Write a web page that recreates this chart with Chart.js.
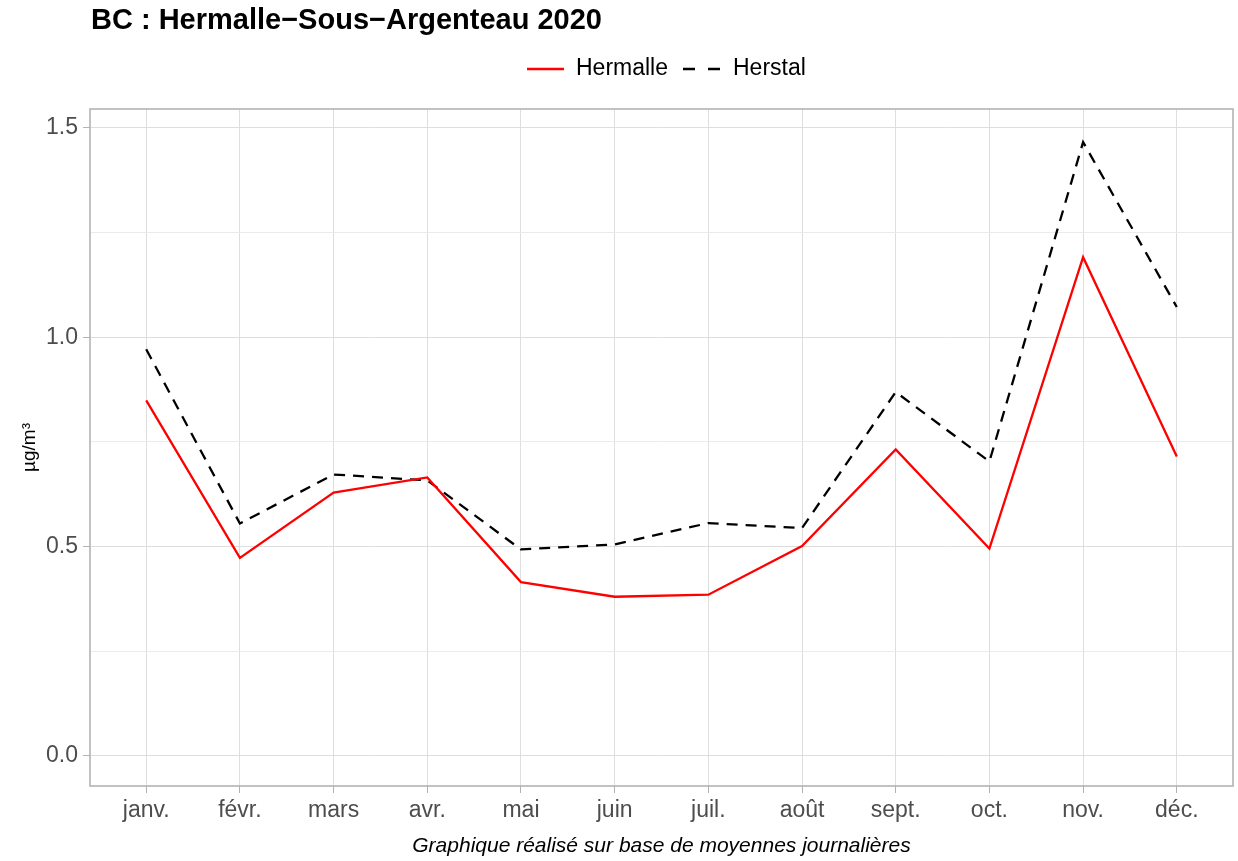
<!DOCTYPE html>
<html>
<head>
<meta charset="utf-8">
<script src="https://cdn.jsdelivr.net/npm/chart.js@4/dist/chart.umd.min.js"></script>
<style>
  html, body { margin: 0; padding: 0; background: #fff; }
  canvas { display: block; }
</style>
</head>
<body>
<canvas id="bc" width="1238" height="861"></canvas>
<script>
const months = ['janv.', 'févr.', 'mars', 'avr.', 'mai', 'juin', 'juil.', 'août', 'sept.', 'oct.', 'nov.', 'déc.'];
const hermalle = [0.849, 0.473, 0.629, 0.665, 0.415, 0.380, 0.385, 0.501, 0.732, 0.495, 1.191, 0.715];
const herstal = [0.971, 0.555, 0.672, 0.658, 0.493, 0.505, 0.556, 0.544, 0.869, 0.703, 1.466, 1.072];
const yTicks = [0, 0.25, 0.5, 0.75, 1, 1.25, 1.5];

const FONT = '"Liberation Sans", Arial, Helvetica, sans-serif';

function toPoints(values) {
  return values.map((v, i) => ({ x: i, y: v }));
}

function isMajor(v) {
  return Math.abs(v * 2 - Math.round(v * 2)) < 1e-9;
}

// panel border, title and legend drawn ggplot-style
const decorations = {
  id: 'decorations',
  afterDraw(chart) {
    const { ctx, chartArea } = chart;
    ctx.save();
    ctx.strokeStyle = '#b3b3b3';
    ctx.lineWidth = 1.6;
    ctx.strokeRect(chartArea.left, chartArea.top, chartArea.right - chartArea.left, chartArea.bottom - chartArea.top);

    ctx.fillStyle = '#000';
    ctx.font = 'bold 29px ' + FONT;
    ctx.textBaseline = 'middle';
    ctx.textAlign = 'left';
    ctx.fillText('BC : Hermalle\u2212Sous\u2212Argenteau 2020', 91, 21);

    // legend
    const y = 69;
    ctx.font = '23px ' + FONT;
    ctx.lineWidth = 2.3;
    ctx.strokeStyle = '#ff0000';
    ctx.beginPath();
    ctx.moveTo(527, y);
    ctx.lineTo(564, y);
    ctx.stroke();
    ctx.fillText('Hermalle', 576, y);

    ctx.strokeStyle = '#000';
    ctx.setLineDash([12, 13]);
    ctx.beginPath();
    ctx.moveTo(683, y);
    ctx.lineTo(720, y);
    ctx.stroke();
    ctx.setLineDash([]);
    ctx.fillText('Herstal', 733, y);
    ctx.restore();
  }
};

new Chart(document.getElementById('bc'), {
  type: 'line',
  data: {
    datasets: [
      {
        label: 'Hermalle',
        data: toPoints(hermalle),
        borderColor: '#ff0000',
        borderWidth: 2.3,
        pointRadius: 0,
        tension: 0,
      },
      {
        label: 'Herstal',
        data: toPoints(herstal),
        borderColor: '#000000',
        borderWidth: 2.3,
        borderDash: [11, 8],
        pointRadius: 0,
        tension: 0,
      },
    ],
  },
  options: {
    responsive: false,
    devicePixelRatio: 1,
    animation: false,
    layout: { padding: { top: 109, right: 5, left: 0, bottom: 0 } },
    plugins: {
      legend: { display: false },
      title: { display: false },
      tooltip: { enabled: false },
    },
    scales: {
      x: {
        type: 'linear',
        min: -0.6,
        max: 11.6,
        afterBuildTicks: scale => {
          scale.ticks = months.map((m, i) => ({ value: i }));
        },
        afterFit: scale => {
          scale.height = 75;
        },
        ticks: {
          callback: v => months[v],
          autoSkip: false,
          maxRotation: 0,
          padding: 4,
          color: '#4d4d4d',
          font: { family: FONT, size: 23 },
        },
        grid: {
          color: '#dedede',
          lineWidth: 1,
          tickColor: '#b3b3b3',
          tickLength: 7,
        },
        border: { display: false },
        title: {
          display: true,
          text: 'Graphique réalisé sur base de moyennes journalières',
          color: '#000',
          font: { family: FONT, size: 21, style: 'italic' },
          padding: { top: 0, bottom: 2 },
        },
      },
      y: {
        min: -0.072,
        max: 1.545,
        afterBuildTicks: scale => {
          scale.ticks = yTicks.map(v => ({ value: v }));
        },
        afterFit: scale => {
          scale.width = 90;
        },
        ticks: {
          callback: v => (isMajor(v) ? v.toFixed(1) : ''),
          padding: 5,
          color: '#4d4d4d',
          font: { family: FONT, size: 23 },
        },
        grid: {
          color: ctx => (isMajor(ctx.tick.value) ? '#dedede' : '#ebebeb'),
          lineWidth: 1,
          tickColor: ctx => (isMajor(ctx.tick.value) ? '#b3b3b3' : 'rgba(0,0,0,0)'),
          tickLength: 7,
        },
        border: { display: false },
        title: {
          display: true,
          text: 'µg/m³',
          color: '#000',
          font: { family: FONT, size: 19 },
          padding: { top: 18, bottom: 0 },
        },
      },
    },
  },
  plugins: [decorations],
});
</script>
</body>
</html>
